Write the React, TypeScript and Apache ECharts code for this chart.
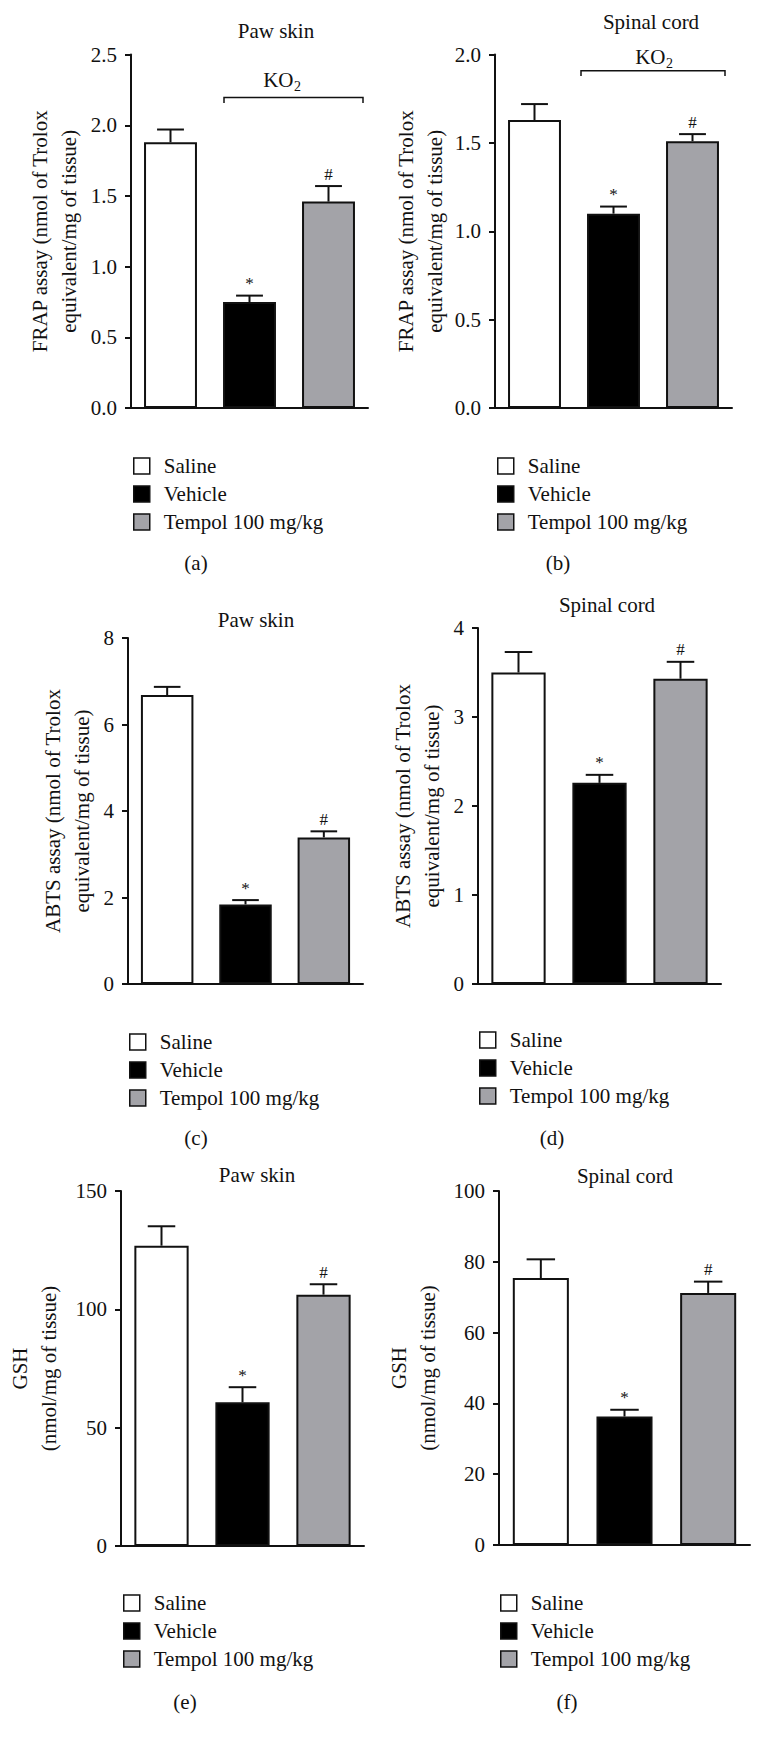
import React, { useEffect, useRef } from "react";
import * as echarts from "echarts";

const groups = ["Saline", "Vehicle", "Tempol 100 mg/kg"];
const groupColors = ["#ffffff", "#000000", "#a3a3a8"];
const marks = ["", "*", "#"];

const frapPawMean = [1.88, 0.75, 1.46];
const frapPawSem = [0.09, 0.045, 0.11];
const frapCordMean = [1.63, 1.1, 1.51];
const frapCordSem = [0.09, 0.04, 0.04];
const abtsPawMean = [6.68, 1.84, 3.39];
const abtsPawSem = [0.19, 0.1, 0.14];
const abtsCordMean = [3.5, 2.26, 3.43];
const abtsCordSem = [0.23, 0.09, 0.19];
const gshPawMean = [126.9, 60.7, 106.2];
const gshPawSem = [8.2, 6.4, 4.4];
const gshCordMean = [75.4, 36.3, 71.2];
const gshCordSem = [5.3, 1.9, 3.2];

const titles = ["Paw skin", "Spinal cord", "Paw skin", "Spinal cord", "Paw skin", "Spinal cord"];
const panelLetters = ["(a)", "(b)", "(c)", "(d)", "(e)", "(f)"];
const yNames = [
  "FRAP assay (nmol of Trolox\nequivalent/mg of tissue)",
  "FRAP assay (nmol of Trolox\nequivalent/mg of tissue)",
  "ABTS assay (nmol of Trolox\nequivalent/mg of tissue)",
  "ABTS assay (nmol of Trolox\nequivalent/mg of tissue)",
  "GSH\n(nmol/mg of tissue)",
  "GSH\n(nmol/mg of tissue)",
];
const yMax = [2.5, 2.0, 8, 4, 150, 100];
const yInterval = [0.5, 0.5, 2, 1, 50, 20];
const yDecimals = [1, 1, 0, 0, 0, 0];
const means = [frapPawMean, frapCordMean, abtsPawMean, abtsCordMean, gshPawMean, gshCordMean];
const sems = [frapPawSem, frapCordSem, abtsPawSem, abtsCordSem, gshPawSem, gshCordSem];
const bracketLabel = "KO";
const bracketSub = "2";

const FONT = "Liberation Serif";
const INK = "#111111";

// layout (pixels)
const layout = [
  { grid: { left: 131, top: 54.6, width: 237, height: 353.4 }, legend: [133, 455.5], title: [276, 31], letter: [196, 563], nameGap: 48, ko: { cx: 282, cy: 80, x1: 224, x2: 363, y: 97.5, yEnd: 103 } },
  { grid: { left: 495, top: 54.6, width: 237, height: 353.4 }, legend: [497, 455.5], title: [651, 22], letter: [558, 563], nameGap: 46, ko: { cx: 654, cy: 57, x1: 581, x2: 725, y: 70.7, yEnd: 76 } },
  { grid: { left: 128, top: 638, width: 235, height: 346 }, legend: [129, 1031.5], title: [256, 620], letter: [196, 1138], nameGap: 32, ko: null },
  { grid: { left: 478, top: 628, width: 243, height: 356 }, legend: [479, 1029.5], title: [607, 605], letter: [552, 1138], nameGap: 32, ko: null },
  { grid: { left: 121, top: 1191, width: 243, height: 355 }, legend: [123, 1592.5], title: [257, 1175], letter: [185, 1702], nameGap: 58, ko: null },
  { grid: { left: 499, top: 1191, width: 251, height: 354 }, legend: [500, 1592.5], title: [625, 1176], letter: [567, 1702], nameGap: 57, ko: null },
];

function buildOption() {
  const grid: any[] = [];
  const xAxis: any[] = [];
  const yAxis: any[] = [];
  const series: any[] = [];
  const legend: any[] = [];
  const graphic: any[] = [];

  layout.forEach((L, i) => {
    grid.push({ ...L.grid, containLabel: false });
    xAxis.push({
      type: "category",
      gridIndex: i,
      data: groups,
      axisLine: { show: true, lineStyle: { color: INK, width: 2 } },
      axisTick: { show: false },
      axisLabel: { show: false },
    });
    yAxis.push({
      type: "value",
      gridIndex: i,
      min: 0,
      max: yMax[i],
      interval: yInterval[i],
      name: yNames[i],
      nameLocation: "middle",
      nameRotate: 90,
      nameGap: L.nameGap,
      nameTextStyle: { fontFamily: FONT, fontSize: 21, color: INK, lineHeight: 29 },
      axisLine: { show: true, lineStyle: { color: INK, width: 2 } },
      axisTick: { show: true, length: 6, lineStyle: { color: INK, width: 2 } },
      splitLine: { show: false },
      axisLabel: {
        margin: 14,
        fontFamily: FONT,
        fontSize: 21,
        color: INK,
        formatter: (v: number) => v.toFixed(yDecimals[i]),
      },
    });
    groups.forEach((g, gi) => {
      series.push({
        type: "bar",
        name: g,
        xAxisIndex: i,
        yAxisIndex: i,
        stack: "s" + i,
        barCategoryGap: "33%",
        itemStyle: { color: groupColors[gi], borderColor: INK, borderWidth: 2 },
        data: groups.map((_, j) => (j === gi ? means[i][j] : "-")),
        z: 2,
      });
    });
    series.push({
      type: "custom",
      name: "err" + i,
      xAxisIndex: i,
      yAxisIndex: i,
      z: 5,
      data: means[i].map((m, j) => [j, m, m + sems[i][j]]),
      renderItem: (params: any, api: any) => {
        const j = api.value(0);
        const lo = api.coord([j, api.value(1)]);
        const hi = api.coord([j, api.value(2)]);
        const half = api.size([1, 0])[0] * 0.17;
        return {
          type: "group",
          children: [
            { type: "line", shape: { x1: lo[0], y1: lo[1], x2: hi[0], y2: hi[1] }, style: { stroke: INK, lineWidth: 2 } },
            { type: "line", shape: { x1: hi[0] - half, y1: hi[1], x2: hi[0] + half, y2: hi[1] }, style: { stroke: INK, lineWidth: 2 } },
            {
              type: "text",
              x: hi[0],
              y: hi[1] - 12,
              style: { text: marks[j], fontFamily: FONT, fontSize: 17, fill: INK, align: "center", verticalAlign: "middle" },
            },
          ],
        };
      },
    });
    legend.push({
      left: L.legend[0],
      top: L.legend[1],
      orient: "vertical",
      padding: 0,
      icon: "rect",
      itemWidth: 16,
      itemHeight: 16,
      itemGap: 7,
      selectedMode: false,
      data: groups,
      itemStyle: { borderColor: INK, borderWidth: 1.5 },
      textStyle: { fontFamily: FONT, fontSize: 21, color: INK, lineHeight: 21, padding: [0, 0, 0, 9] },
    });
    graphic.push({
      type: "text",
      x: L.title[0],
      y: L.title[1],
      style: { text: titles[i], fontFamily: FONT, fontSize: 21, fill: INK, align: "center", verticalAlign: "middle" },
    });
    graphic.push({
      type: "text",
      x: L.letter[0],
      y: L.letter[1],
      style: { text: panelLetters[i], fontFamily: FONT, fontSize: 21, fill: INK, align: "center", verticalAlign: "middle" },
    });
    if (L.ko) {
      const k = L.ko;
      graphic.push({
        type: "text",
        x: k.cx + 11.5,
        y: k.cy,
        style: { text: bracketLabel, fontFamily: FONT, fontSize: 21, fill: INK, align: "right", verticalAlign: "middle" },
      });
      graphic.push({
        type: "text",
        x: k.cx + 12,
        y: k.cy + 6,
        style: { text: bracketSub, fontFamily: FONT, fontSize: 14, fill: INK, align: "left", verticalAlign: "middle" },
      });
      graphic.push({
        type: "polyline",
        shape: { points: [[k.x1, k.yEnd], [k.x1, k.y], [k.x2, k.y], [k.x2, k.yEnd]] },
        style: { stroke: INK, lineWidth: 1.5, fill: null },
      });
    }
  });

  return {
    animation: false,
    backgroundColor: "#ffffff",
    grid,
    xAxis,
    yAxis,
    series,
    legend,
    graphic,
  };
}

export default function App() {
  const ref = useRef<HTMLDivElement>(null);
  useEffect(() => {
    if (!ref.current) return;
    const chart = echarts.init(ref.current, undefined, { renderer: "svg" });
    chart.setOption(buildOption() as any);
    return () => chart.dispose();
  }, []);
  return (
    <div
      ref={ref}
      style={{ position: "absolute", left: 0, top: 0, width: 764, height: 1745, background: "#fff" }}
    />
  );
}
